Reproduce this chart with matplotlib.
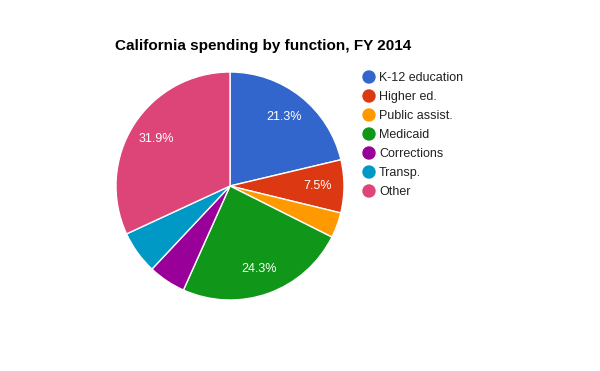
import matplotlib.pyplot as plt
from matplotlib.patches import Ellipse

categories = ["K-12 education", "Higher ed.", "Public assist.", "Medicaid",
              "Corrections", "Transp.", "Other"]
shares = [21.3, 7.5, 3.6, 24.3, 5.3, 6.1, 31.9]
colors = ["#3366cc", "#dc3912", "#ff9900", "#109618", "#990099", "#0099c6", "#dd4477"]

plt.rcParams["font.family"] = ["Liberation Sans", "DejaVu Sans"]

W, H = 600, 371
fig = plt.figure(figsize=(W / 100, H / 100), dpi=100)

# pie centre (230, 186) px, radius 114 px
cx, cy, r = 230, 186, 114
ax = fig.add_axes([(cx - r) / W, (H - cy - r) / H, 2 * r / W, 2 * r / H])


def pct_label(p):
    return f"{p:.1f}%" if p >= 7 else ""


wedges, _, autotexts = ax.pie(
    shares, colors=colors, startangle=90, counterclock=False,
    autopct=pct_label, pctdistance=0.77, radius=1,
    wedgeprops=dict(edgecolor="white", linewidth=1),
    textprops=dict(color="white", fontsize=9),
)
ax.set_xlim(-1, 1)
ax.set_ylim(-1, 1)
ax.set_aspect("equal")
ax.axis("off")

fig.text(115 / W, 1 - 46 / H, "California spending by function, FY 2014",
         fontsize=11, fontweight="bold", va="center", ha="left")

for i, (name, color) in enumerate(zip(categories, colors)):
    y = 1 - (77 + 19 * i) / H
    fig.patches.append(Ellipse((369 / W, y), 12 / W, 12 / H, color=color,
                               transform=fig.transFigure))
    fig.text(379 / W, y - 1 / H, name, fontsize=9, va="center", ha="left",
             color="#222222")

fig.savefig("out.png", dpi=100)
